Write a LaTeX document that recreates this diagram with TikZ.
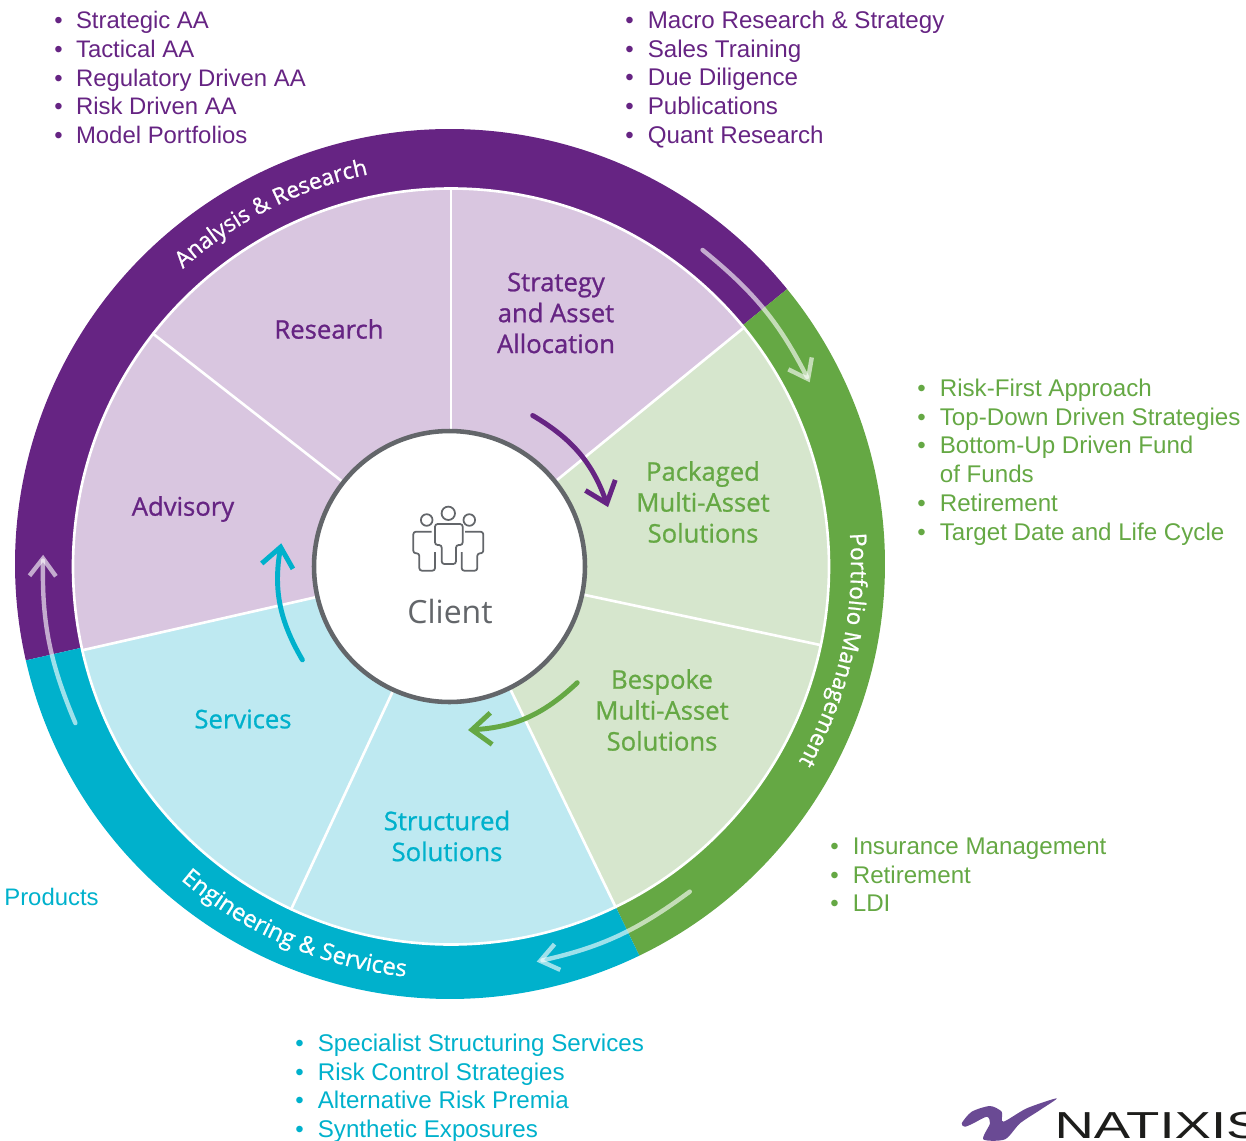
\documentclass[tikz,border=0pt]{standalone}
\usepackage{fontspec}
\setmainfont{Liberation Sans}
\newfontfamily\wheelfont{Open Sans}[FakeBold=0.9]
\newfontfamily\plainwheelfont{Open Sans}
\usetikzlibrary{%
  arrows.meta,%
  decorations.text,%
  positioning,%
  calc
}
\definecolor{anaDark}{HTML}{662483}
\definecolor{anaLight}{HTML}{D9C6E0}
\definecolor{pmDark}{HTML}{65A844}
\definecolor{pmLight}{HTML}{D6E6CD}
\definecolor{engDark}{HTML}{00B1CC}
\definecolor{engLight}{HTML}{BEE9F1}
\definecolor{clientGrey}{HTML}{63666A}
\definecolor{logoInk}{HTML}{1D1D1B}
\definecolor{logoPurple}{HTML}{6A4A94}

\begin{document}
\begin{tikzpicture}[
  x=0.02cm, y=0.02cm, line cap=round,
  wedgelabel/.style={align=center, inner sep=0pt, font=\wheelfont\fontsize{14.6}{17.6}\selectfont},
  listnode/.style={anchor=north west, inner sep=0pt, font=\fontsize{13.74}{16.35}\selectfont},
  ringarrow/.style={draw=white, draw opacity=0.62, line width=2.5pt, -{Straight Barb[length=10pt,width=15pt]}},
  innerarrow/.style={line width=2.8pt, -{Straight Barb[length=11pt,width=18pt]}},
  ringtext/.style={decorate, decoration={text along path, text align=center, text={#1}}},
  spoke/.style={draw=white, line width=1.5pt}
]
\useasboundingbox (-450,-576) rectangle (796,564);

% ring
\fill[anaDark] (0,0) -- (39.2:435) arc[start angle=39.2, end angle=192.8, radius=435] -- cycle;
\fill[pmDark] (0,0) -- (-64.2:435) arc[start angle=-64.2, end angle=39.2, radius=435] -- cycle;
\fill[engDark] (0,0) -- (192.8:435) arc[start angle=192.8, end angle=295.8, radius=435] -- cycle;

% wedges
\begin{scope}[shift={(1,-2.5)}]
  \fill[anaLight] (0,0) -- (39.2:378) arc[start angle=39.2, end angle=192.8, radius=378] -- cycle;
  \fill[pmLight] (0,0) -- (-64.2:378) arc[start angle=-64.2, end angle=39.2, radius=378] -- cycle;
  \fill[engLight] (0,0) -- (192.8:378) arc[start angle=192.8, end angle=295.8, radius=378] -- cycle;
  \draw[spoke] (0,0) circle[radius=378];
  \foreach \ang in {39.2,90,142,192.8,245,295.8,348}
    \draw[spoke] (0,0) -- (\ang:378);
\end{scope}

% centre
\node[circle, minimum size=5.42cm, inner sep=0pt, fill=white, draw=clientGrey, line width=2.6pt] (client) at (-0.5,-2.5) {};
\node[text=clientGrey, inner sep=0pt, font=\plainwheelfont\fontsize{18.2}{20}\selectfont] (clientlabel) at (0,-48) {Client};
\begin{scope}[draw=clientGrey, line width=1pt, line cap=butt, line join=round]
  \draw (-23.3,44) circle[radius=5.8];
  \draw (-1.7,50.7) circle[radius=6.7];
  \draw (19.3,44) circle[radius=5.8];
  \draw[rounded corners=1.5pt] (-8.3,19) -- (-8.3,0) -- (6,0) -- (6,19) -- (12.7,19) -- (12.7,40) -- (-15,40) -- (-15,19) -- cycle;
  \draw[rounded corners=1.5pt] (-18.3,32.3) -- (-36.7,32.3) -- (-36.7,10.7) -- (-30.7,10.7) -- (-30.7,-6.7) -- (-15,-6.7) -- (-15,12);
  \draw[rounded corners=1.5pt] (15,32.3) -- (33.3,32.3) -- (33.3,10.7) -- (27.3,10.7) -- (27.3,-6.7) -- (11.7,-6.7) -- (11.7,12);
\end{scope}

% wedge labels
\node[wedgelabel, text=anaDark] (research) at (-121,235) {Research};
\node[wedgelabel, text=anaDark] (strategy) at (106,251) {Strategy\\and Asset\\Allocation};
\node[wedgelabel, text=anaDark] (advisory) at (-267,55) {Advisory};
\node[wedgelabel, text=pmDark] (packaged) at (253,62) {Packaged\\Multi-Asset\\Solutions};
\node[wedgelabel, text=pmDark] (bespoke) at (212,-146) {Bespoke\\Multi-Asset\\Solutions};
\node[wedgelabel, text=engDark] (structured) at (-3,-272) {Structured\\Solutions};
\node[wedgelabel, text=engDark] (services) at (-207,-155) {Services};

% ring labels
\path[ringtext={|\color{white}\wheelfont\fontsize{12.9}{15}\selectfont|Analysis {\&} Research}]
  (147:398) arc[start angle=147, end angle=87, radius=398];
\path[ringtext={|\color{white}\wheelfont\fontsize{12.9}{15}\selectfont|Portfolio Management}]
  (22.4:401) arc[start angle=22.4, end angle=-47.6, radius=401];
\path[ringtext={|\color{white}\wheelfont\fontsize{13.4}{15}\selectfont|Engineering {\&} Services}]
  (216.7:415) arc[start angle=216.7, end angle=276.7, radius=415];

% arrows on the ring
\coordinate (anaFrom) at (51.2:403);
\coordinate (anaTo) at (26.8:403);
\coordinate (pmFrom) at (-53.8:406);
\coordinate (pmTo) at (-77.7:407);
\coordinate (engFrom) at (203:407);
\coordinate (engTo) at (178.7:407);
\draw[ringarrow] (anaFrom) to[bend left=12] (anaTo);
\draw[ringarrow] (pmFrom) to[bend left=12] (pmTo);
\draw[ringarrow] (engFrom) to[bend left=12] (engTo);

% arrows round the client
\coordinate (stratFrom) at (60.9:170);
\coordinate (stratTo) at (19.8:168);
\coordinate (besFrom) at (-43:174);
\coordinate (besTo) at (-83.8:167);
\coordinate (servFrom) at (213:176);
\coordinate (servTo) at (173:170);
\draw[innerarrow, draw=anaDark] (stratFrom) to[bend left=20] (stratTo);
\draw[innerarrow, draw=pmDark] (besFrom) to[bend left=20] (besTo);
\draw[innerarrow, draw=engDark] (servFrom) to[bend left=20] (servTo);

% lists
\node[listnode, text=anaDark, font=\fontsize{13.6}{16.4}\selectfont] (listana) at (-396,556) {\begin{tabular}{@{}l@{\hspace{7.6pt}}l@{}}
  \textbullet & Strategic AA\\ \textbullet & Tactical AA\\ \textbullet & Regulatory Driven AA\\
  \textbullet & Risk Driven AA\\ \textbullet & Model Portfolios\end{tabular}};
\node[listnode, text=anaDark] (listmacro) at (175,556) {\begin{tabular}{@{}l@{\hspace{8pt}}l@{}}
  \textbullet & Macro Research {\&} Strategy\\ \textbullet & Sales Training\\ \textbullet & Due Diligence\\
  \textbullet & Publications\\ \textbullet & Quant Research\end{tabular}};
\node[listnode, text=pmDark] (listpm) at (467,188) {\begin{tabular}{@{}l@{\hspace{8pt}}l@{}}
  \textbullet & Risk-First Approach\\ \textbullet & Top-Down Driven Strategies\\ \textbullet & Bottom-Up Driven Fund\\
  & of Funds\\ \textbullet & Retirement\\ \textbullet & Target Date and Life Cycle\end{tabular}};
\node[listnode, text=pmDark] (listins) at (380,-270) {\begin{tabular}{@{}l@{\hspace{8pt}}l@{}}
  \textbullet & Insurance Management\\ \textbullet & Retirement\\ \textbullet & LDI\end{tabular}};
\node[listnode, text=engDark] (listeng) at (-155,-467) {\begin{tabular}{@{}l@{\hspace{8pt}}l@{}}
  \textbullet & Specialist Structuring Services\\ \textbullet & Risk Control Strategies\\
  \textbullet & Alternative Risk Premia\\ \textbullet & Synthetic Exposures\end{tabular}};
\node[inner sep=0pt, anchor=west, text=engDark, font=\fontsize{13.6}{16.35}\selectfont] (products) at (-446,-333) {Products};

% logo
\fill[logoPurple] plot[smooth cycle, tension=0.45] coordinates {(511.7,-559.3) (521.7,-547.7) (540,-542) (551.7,-547.7)
  (553.3,-557.7) (576.7,-544.3) (606.7,-534.3) (590,-546) (570,-559.3) (555,-575.3) (533.3,-575.3)
  (540,-559.3) (536.7,-552.7) (523.3,-559.3) (515,-562.7)};
\node[anchor=base west, inner sep=0pt, xscale=1.45, text=logoInk, font=\fontsize{21.4}{24}\selectfont] (logo) at (604,-574) {NATIXIS};
\end{tikzpicture}
\end{document}
